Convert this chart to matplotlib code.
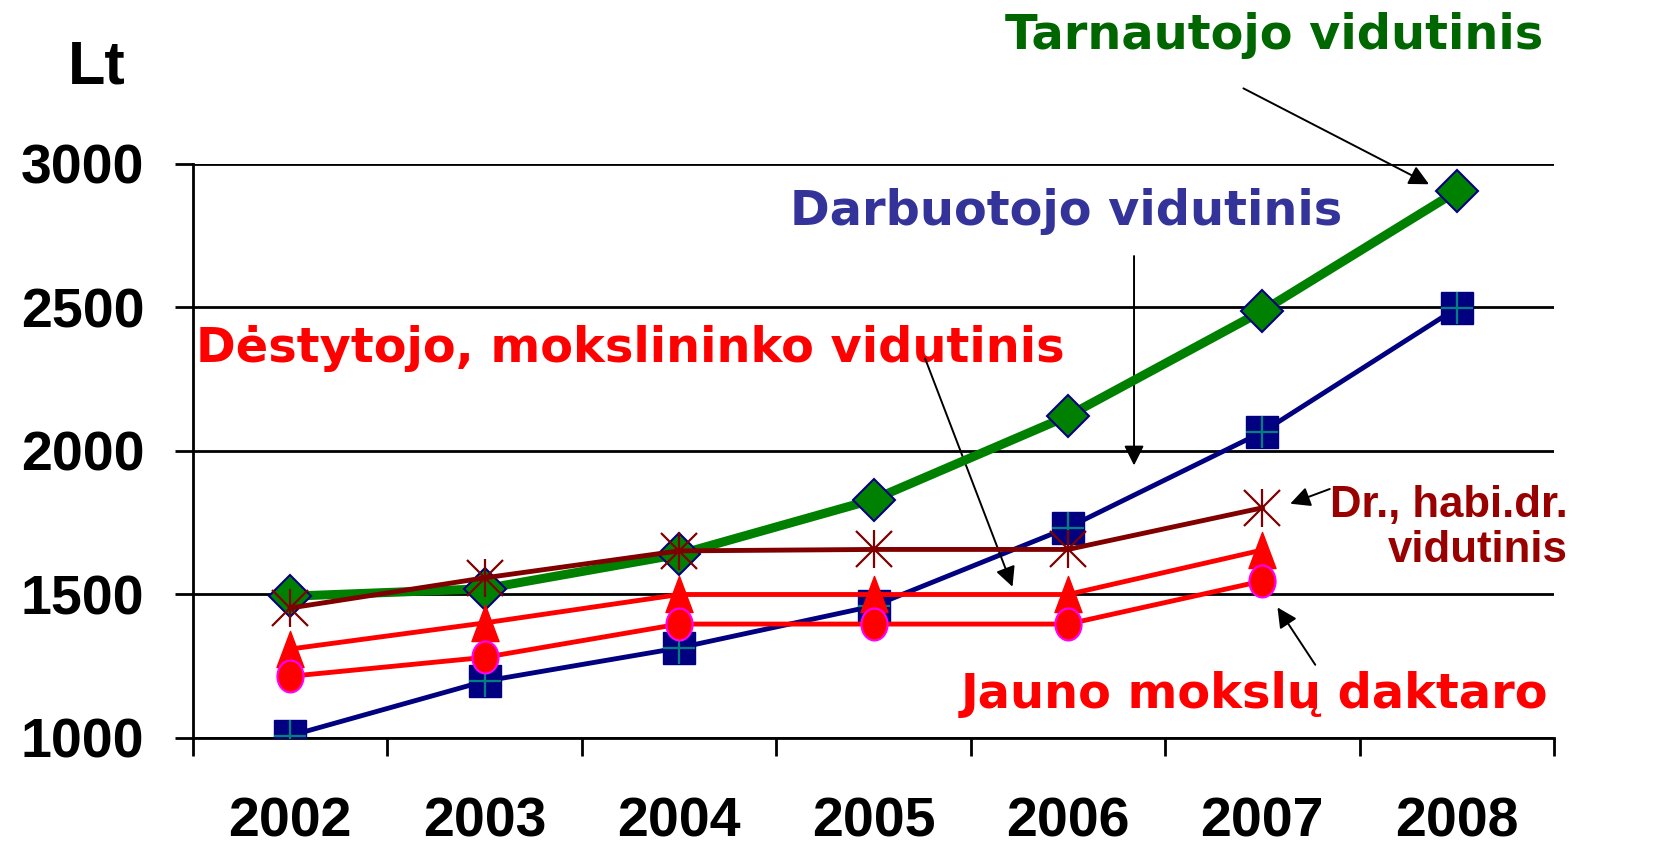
import numpy as np
import matplotlib
matplotlib.use("Agg")
import matplotlib.pyplot as plt
from matplotlib.path import Path
from matplotlib.transforms import Affine2D

# data (Lt)
years = ["2002", "2003", "2004", "2005", "2006", "2007", "2008"]
tarnautojo = [1494, 1520, 1640, 1831, 2122, 2488, 2905]
darbuotojo = [1008, 1198, 1314, 1460, 1733, 2066, 2498]
dr_habil = [1453, 1558, 1652, 1657, 1657, 1802]
destytojo = [1310, 1401, 1500, 1500, 1500, 1655]
jauno = [1215, 1281, 1397, 1397, 1397, 1547]
yticks = [1000, 1500, 2000, 2500, 3000]

plt.rcParams['font.family'] = ['Liberation Sans', 'DejaVu Sans']

fig = plt.figure(figsize=(16.55, 8.55), dpi=100)
ax = fig.add_axes([193/1655, 117/855, 1361/1655, 574/855])

x = np.arange(len(years))

# tall triangle and tall ellipse markers like the Excel ones
tri = Path([(0, 1), (-0.75, -1), (0.75, -1), (0, 1)], closed=True)
ell = Path.unit_circle().transformed(Affine2D().scale(0.82, 1.0))

ax.plot(x, darbuotojo, color='#000080', lw=3.5, marker='s', ms=23,
        mfc='#000080', mec='#000080', zorder=3)
ax.plot(x, darbuotojo, ls='none', marker='+', ms=23, mew=1.6,
        color='#008080', zorder=3)
ax.plot(x, tarnautojo, color='#008000', lw=6.5, marker='D', ms=21,
        mfc='#008000', mec='#000080', mew=1.5, zorder=4)
ax.plot(x[:6], dr_habil, color='#800000', lw=3.5, zorder=5)
ax.plot(x[:6], dr_habil, ls='none', marker='x', ms=26, mew=1.6,
        color='#800000', zorder=5)
ax.plot(x[:6], dr_habil, ls='none', marker='|', ms=28, mew=1.6,
        color='#800000', zorder=5)
ax.plot(x[:6], destytojo, color='#ff0000', lw=3.5, marker=tri, ms=26,
        mfc='#ff0000', mec='#ff0000', zorder=6)
ax.plot(x[:6], jauno, color='#ff0000', lw=3.5, marker=ell, ms=23,
        mfc='#ff0000', mec='#ff00ff', mew=1.5, zorder=7)

ax.set_xlim(-0.5, 6.5)
ax.set_ylim(1000, 3000)
ax.set_yticks(yticks)
ax.set_yticklabels([str(v) for v in yticks], fontsize=40, fontweight='bold')
ax.yaxis.grid(True, color='black', lw=2)
ax.set_axisbelow(True)

ax.set_xticks(np.arange(-0.5, 7, 1))
ax.set_xticklabels([])
ax.set_xticks(x, minor=True)
ax.set_xticklabels(years, minor=True, fontsize=40, fontweight='bold')
ax.tick_params(axis='x', which='major', direction='out', length=13, width=2)
ax.tick_params(axis='x', which='minor', length=0, pad=42)
ax.tick_params(axis='y', direction='out', length=13, width=2, pad=22)

for s in ['top', 'right']:
    ax.spines[s].set_visible(False)
for s in ['left', 'bottom']:
    ax.spines[s].set_linewidth(2)

fig.text(97/1655, 1 - 68/855, "Lt", fontsize=44, fontweight='bold',
         ha='center', va='center')

arrow = dict(arrowstyle='-|>', color='black', lw=1.4, mutation_scale=30)
lab = dict(family='DejaVu Sans', fontweight='bold', fontsize=34.5,
           annotation_clip=False)

ax.annotate("Tarnautojo vidutinis", xy=(5.06, 3448), ha='center',
            va='center', color='#006600', **lab)
ax.annotate("", xy=(5.87, 2925), xytext=(4.89, 3268), arrowprops=arrow,
            annotation_clip=False)

ax.annotate("Darbuotojo vidutinis", xy=(3.99, 2835), ha='center', va='center',
            color='#333399', **lab)
ax.annotate("", xy=(4.34, 1940), xytext=(4.34, 2689), arrowprops=arrow)

ax.annotate("Dėstytojo, mokslininko vidutinis", xy=(1.75, 2358),
            ha='center', va='center', color='#ff0000', **lab)
ax.annotate("", xy=(3.72, 1518), xytext=(3.26, 2332), arrowprops=arrow)

ax.annotate("Dr., habi.dr.\nvidutinis", xy=(6.57, 1733), ha='right',
            va='center', multialignment='right', color='#990000',
            family='Liberation Sans', fontweight='bold', fontsize=31.5,
            linespacing=1.12, annotation_clip=False)
ax.annotate("", xy=(5.13, 1813), xytext=(5.36, 1871), arrowprops=arrow)

ax.annotate("Jauno mokslų daktaro", xy=(4.96, 1151), ha='center',
            va='center', color='#ff0000', **lab)
ax.annotate("", xy=(5.07, 1463), xytext=(5.28, 1247), arrowprops=arrow)

fig.savefig("out.png", dpi=100)
